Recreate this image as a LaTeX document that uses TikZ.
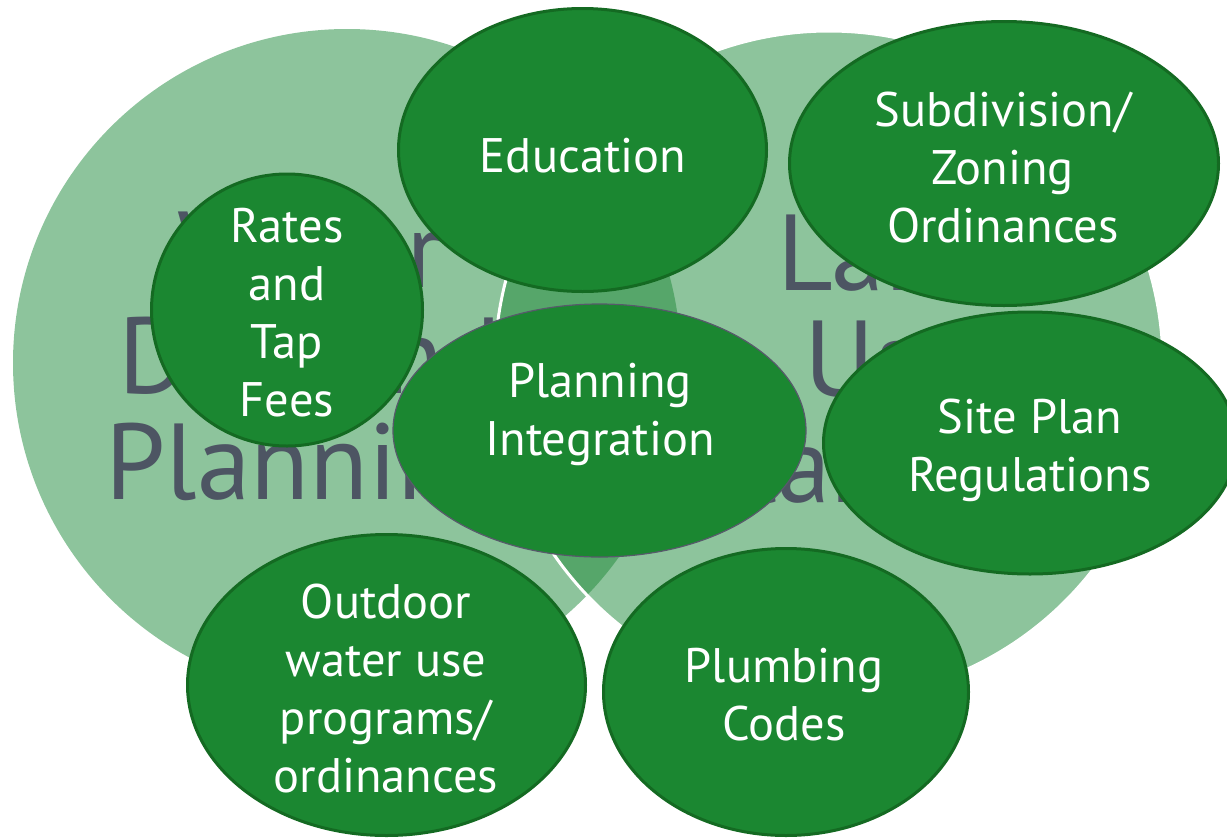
\documentclass[tikz,border=0pt]{standalone}
\usepackage{fontspec}
\setmainfont{PT Sans}
\usetikzlibrary{shapes.geometric}
\definecolor{lightgreen}{HTML}{8DC49C}
\definecolor{lensgreen}{HTML}{56A66A}
\definecolor{blobfill}{HTML}{1B8731}
\definecolor{blobline}{HTML}{146A22}
\definecolor{bigtext}{HTML}{4D5563}
\definecolor{pline}{HTML}{575A6B}
\begin{document}
\begin{tikzpicture}[x=1pt,y=-1pt,
  venn/.style={circle, fill=lightgreen, minimum size=668pt, inner sep=0pt, outer sep=0pt},
  blob/.style={ellipse, fill=blobfill, draw=blobline, line width=3pt, inner sep=0pt, outer sep=0pt},
  lbl/.style={text=white, align=center, font=\fontsize{48.5}{58}\selectfont, inner sep=0pt},
  big/.style={text=bigtext, align=center, font=\fontsize{108}{106}\selectfont, inner sep=0pt}]
\useasboundingbox (0,0) rectangle (1227,839);
\clip (0,0) rectangle (1227,839);
% Venn circles
\node[venn] (wcirc) at (347,363) {};
\node[venn] (lcirc) at (829,365) {};
\begin{scope}
  \clip (wcirc.center) circle[radius=334];
  \fill[lensgreen] (lcirc.center) circle[radius=334];
\end{scope}
\draw[white, line width=3pt] (lcirc.center) circle[radius=334];
% big labels
\node[big] (wtxt) at (310,367) {Water\\Demand\\Planning};
\node[big] (ltxt) at (890,370.5) {Land\\Use\\Planning};
% ellipses
\node[blob, minimum width=368pt, minimum height=283pt] (edu) at (582.5,150) {};
\node[lbl] (edut) at (583,155.5) {Education};
\node[blob, minimum width=429pt, minimum height=284pt] (sub) at (1004,163.5) {};
\node[lbl] (subt) at (1003,167.5) {Subdivision/\\Zoning\\Ordinances};
\node[blob, minimum width=271pt, minimum height=272pt] (rat) at (287,310) {};
\node[lbl] (ratt) at (287,312.5) {Rates\\and\\Tap\\Fees};
\node[blob, draw=pline, line width=1.2pt, minimum width=413pt, minimum height=253pt] (pin) at (599.5,430.5) {};
\node[lbl] (pint) at (600,414.5) {Planning\\Integration};
\node[blob, minimum width=413pt, minimum height=262pt] (sit) at (1030,443) {};
\node[lbl] (sitt) at (1030,450) {Site Plan\\Regulations};
\node[blob, minimum width=398pt, minimum height=301pt] (out) at (386.5,685) {};
\node[lbl] (outt) at (386,688.5) {Outdoor\\water use\\programs/\\ordinances};
\node[blob, minimum width=365pt, minimum height=287pt] (plu) at (786,692) {};
\node[lbl] (plut) at (784,695) {Plumbing\\Codes};
\end{tikzpicture}
\end{document}
